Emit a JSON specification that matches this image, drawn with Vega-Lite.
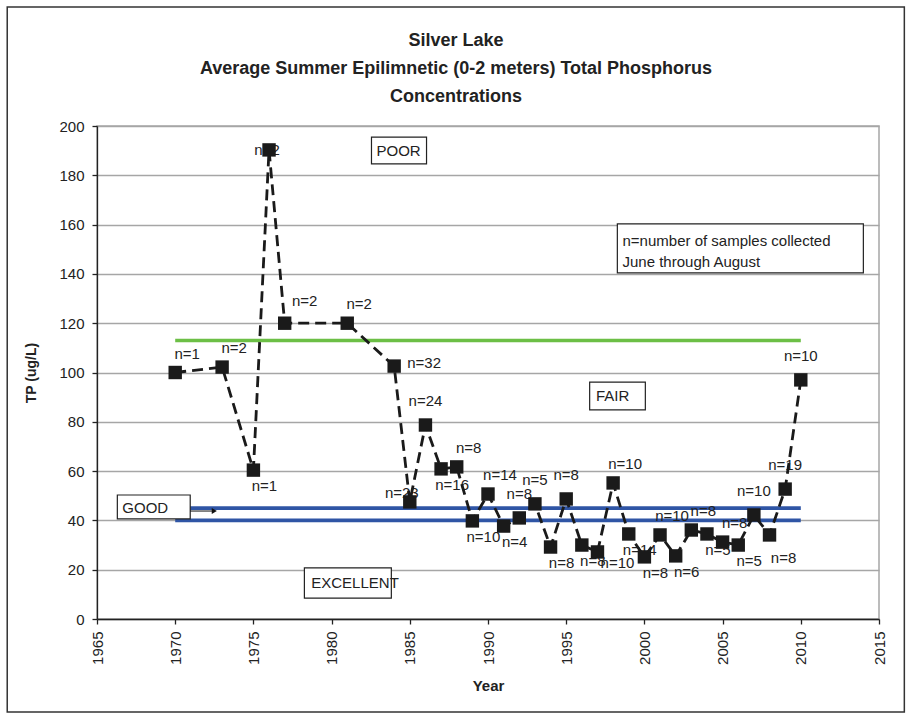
{
  "$schema": "https://vega.github.io/schema/vega-lite/v6.json",
  "width": 782,
  "height": 493,
  "autosize": {"type": "none"},
  "padding": {"left": 97, "top": 126, "right": 33, "bottom": 96},
  "background": "white",
  "title": {
    "text": ["Silver Lake", "Average Summer Epilimnetic (0-2 meters) Total Phosphorus", "Concentrations"],
    "font": "Liberation Sans",
    "fontSize": 18,
    "fontWeight": "bold",
    "color": "#222222",
    "lineHeight": 28,
    "anchor": "middle",
    "dx": -32,
    "offset": -100
  },
  "config": {
    "view": {"stroke": "#a6a6a6", "strokeWidth": 1.5},
    "font": "Liberation Sans",
    "axis": {
      "labelFont": "Liberation Sans",
      "titleFont": "Liberation Sans",
      "labelColor": "#222222",
      "titleColor": "#222222",
      "domainColor": "#222222",
      "tickColor": "#222222",
      "domainWidth": 1.3,
      "tickWidth": 1.3
    }
  },
  "datasets": {
    "tp": [
      {"year": 1970, "tp": 100, "label": "n=1", "pos": "ar"},
      {"year": 1973, "tp": 102.2, "label": "n=2", "pos": "ar"},
      {"year": 1975, "tp": 60.4, "label": "n=1", "pos": "br"},
      {"year": 1976, "tp": 190.3, "label": "n=2", "pos": "c"},
      {"year": 1977, "tp": 120, "label": "n=2", "pos": "ar2"},
      {"year": 1981, "tp": 120, "label": "n=2", "pos": "ar"},
      {"year": 1984, "tp": 102.6, "label": "n=32", "pos": "r"},
      {"year": 1985, "tp": 47.5, "label": "n=23", "pos": "al"},
      {"year": 1986, "tp": 78.7, "label": "n=24", "pos": "a"},
      {"year": 1987, "tp": 60.9, "label": "n=16", "pos": "br"},
      {"year": 1988, "tp": 61.7, "label": "n=8", "pos": "ar"},
      {"year": 1989, "tp": 39.8, "label": "n=10", "pos": "br"},
      {"year": 1990, "tp": 50.7, "label": "n=14", "pos": "ar"},
      {"year": 1991, "tp": 37.7, "label": "n=4", "pos": "br"},
      {"year": 1992, "tp": 41, "label": "n=8", "pos": "a"},
      {"year": 1993, "tp": 46.7, "label": "n=5", "pos": "a"},
      {"year": 1994, "tp": 29.2, "label": "n=8", "pos": "br"},
      {"year": 1995, "tp": 48.7, "label": "n=8", "pos": "a"},
      {"year": 1996, "tp": 30, "label": "n=8", "pos": "br"},
      {"year": 1997, "tp": 27.2, "label": "n=10", "pos": "br2"},
      {"year": 1998, "tp": 55.2, "label": "n=10", "pos": "ar"},
      {"year": 1999, "tp": 34.5, "label": "n=14", "pos": "br"},
      {"year": 2000, "tp": 25.2, "label": "n=8", "pos": "br"},
      {"year": 2001, "tp": 34.1, "label": "n=10", "pos": "ar"},
      {"year": 2002, "tp": 25.6, "label": "n=6", "pos": "br"},
      {"year": 2003, "tp": 36.1, "label": "n=8", "pos": "ar"},
      {"year": 2004, "tp": 34.5, "label": "n=5", "pos": "br"},
      {"year": 2005, "tp": 31.2, "label": "n=8", "pos": "ar"},
      {"year": 2006, "tp": 30, "label": "n=5", "pos": "br"},
      {"year": 2007, "tp": 42.2, "label": "n=10", "pos": "a"},
      {"year": 2008, "tp": 34.1, "label": "n=8", "pos": "br3"},
      {"year": 2009, "tp": 52.7, "label": "n=19", "pos": "a"},
      {"year": 2010, "tp": 97, "label": "n=10", "pos": "a"}
    ],
    "thresholds": [
      {"name": "Fair/Poor", "tp": 113, "year": 1970, "end": 2010, "color": "green"},
      {"name": "Good upper", "tp": 45, "year": 1970, "end": 2010, "color": "blue"},
      {"name": "Good lower", "tp": 40, "year": 1970, "end": 2010, "color": "blue"}
    ],
    "boxes": [
      {"name": "POOR", "year": 1982.55, "year2": 1986.07, "tp": 184.6, "tp2": 195.5},
      {"name": "FAIR", "year": 1996.5, "year2": 2000.06, "tp": 84.8, "tp2": 96.1},
      {"name": "GOOD", "year": 1966.3, "year2": 1970.96, "tp": 40.6, "tp2": 50.3},
      {"name": "EXCELLENT", "year": 1978.26, "year2": 1983.82, "tp": 8.5, "tp2": 20.7},
      {"name": "note", "year": 1998.27, "year2": 2014.0, "tp": 140.4, "tp2": 160.3}
    ],
    "boxtext": [
      {"text": "POOR", "year": 1982.87, "tp": 189.9},
      {"text": "FAIR", "year": 1996.9, "tp": 90.5},
      {"text": "GOOD", "year": 1966.62, "tp": 45.2},
      {"text": "EXCELLENT", "year": 1978.7, "tp": 14.6},
      {"text": "n=number of samples collected", "year": 1998.6, "tp": 153.3},
      {"text": "June through August", "year": 1998.6, "tp": 144.8}
    ],
    "arrow": [
      {"year": 1970.96, "end": 1972.5, "tp": 43.8}
    ]
  },
  "layer": [
    {
      "data": {"name": "thresholds"},
      "mark": {"type": "rule", "strokeWidth": 3.6},
      "encoding": {
        "x": {"field": "year", "type": "quantitative", "scale": {"domain": [1965, 2015], "nice": false, "zero": false},
          "axis": {"title": "Year", "titleFontSize": 15, "titleFontWeight": "bold", "titlePadding": 14,
            "values": [1965, 1970, 1975, 1980, 1985, 1990, 1995, 2000, 2005, 2010, 2015],
            "format": "d", "labelAngle": 270, "labelAlign": "right", "labelBaseline": "middle",
            "labelFontSize": 15, "labelPadding": 7, "tickSize": 5, "grid": false, "labelOverlap": false}},
        "x2": {"field": "end"},
        "y": {"field": "tp", "type": "quantitative", "scale": {"domain": [0, 200], "nice": false},
          "axis": {"title": "TP (ug/L)", "titleFontSize": 14, "titleFontWeight": "bold", "titlePadding": 20,
            "values": [0, 20, 40, 60, 80, 100, 120, 140, 160, 180, 200],
            "labelFontSize": 15, "labelPadding": 8, "tickSize": 5,
            "grid": true, "gridColor": "#a6a6a6", "gridWidth": 1.5}},
        "color": {"field": "color", "type": "nominal", "scale": {"domain": ["green", "blue"], "range": ["#6cbf46", "#2f55a5"]}, "legend": null}
      }
    },
    {
      "data": {"values": [{"frame": "chart border"}]},
      "mark": {"type": "rect", "filled": false, "stroke": "#333333", "strokeWidth": 1.5, "clip": false},
      "encoding": {
        "x": {"datum": 1959.26, "type": "quantitative", "scale": {"domain": [1965, 2015], "nice": false, "zero": false}},
        "x2": {"datum": 2016.62},
        "y": {"datum": 248.3, "type": "quantitative", "scale": {"domain": [0, 200], "nice": false}},
        "y2": {"datum": -37.7}
      }
    },
    {
      "data": {"name": "boxes"},
      "mark": {"type": "rect", "fill": "white", "stroke": "#222222", "strokeWidth": 1.2},
      "encoding": {
        "x": {"field": "year", "type": "quantitative", "scale": {"domain": [1965, 2015], "nice": false, "zero": false}},
        "x2": {"field": "year2"},
        "y": {"field": "tp", "type": "quantitative", "scale": {"domain": [0, 200], "nice": false}},
        "y2": {"field": "tp2"}
      }
    },
    {
      "data": {"name": "boxtext"},
      "mark": {"type": "text", "align": "left", "baseline": "middle", "fontSize": 15, "color": "#222222", "font": "Liberation Sans"},
      "encoding": {
        "x": {"field": "year", "type": "quantitative", "scale": {"domain": [1965, 2015], "nice": false, "zero": false}},
        "y": {"field": "tp", "type": "quantitative", "scale": {"domain": [0, 200], "nice": false}},
        "text": {"field": "text"}
      }
    },
    {
      "data": {"name": "arrow"},
      "mark": {"type": "rule", "color": "#111111", "strokeWidth": 1},
      "encoding": {
        "x": {"field": "year", "type": "quantitative", "scale": {"domain": [1965, 2015], "nice": false, "zero": false}},
        "x2": {"field": "end"},
        "y": {"field": "tp", "type": "quantitative", "scale": {"domain": [0, 200], "nice": false}}
      }
    },
    {
      "data": {"name": "arrow"},
      "mark": {"type": "point", "shape": "triangle-right", "filled": true, "color": "#111111", "size": 35, "opacity": 1},
      "encoding": {
        "x": {"field": "end", "type": "quantitative", "scale": {"domain": [1965, 2015], "nice": false, "zero": false}},
        "y": {"field": "tp", "type": "quantitative", "scale": {"domain": [0, 200], "nice": false}}
      }
    },
    {
      "data": {"name": "tp"},
      "layer": [
        {"transform": [{"filter": "datum.pos === 'a'"}], "mark": {"type": "text", "fontSize": 15, "color": "#222222", "dx": 0, "dy": -24}},
        {"transform": [{"filter": "datum.pos === 'ar'"}], "mark": {"type": "text", "fontSize": 15, "color": "#222222", "dx": 12, "dy": -19}},
        {"transform": [{"filter": "datum.pos === 'ar2'"}], "mark": {"type": "text", "fontSize": 15, "color": "#222222", "dx": 20, "dy": -22}},
        {"transform": [{"filter": "datum.pos === 'br'"}], "mark": {"type": "text", "fontSize": 15, "color": "#222222", "dx": 11, "dy": 16}},
        {"transform": [{"filter": "datum.pos === 'br2'"}], "mark": {"type": "text", "fontSize": 15, "color": "#222222", "dx": 20, "dy": 11}},
        {"transform": [{"filter": "datum.pos === 'br3'"}], "mark": {"type": "text", "fontSize": 15, "color": "#222222", "dx": 14, "dy": 23}},
        {"transform": [{"filter": "datum.pos === 'r'"}], "mark": {"type": "text", "fontSize": 15, "color": "#222222", "dx": 30, "dy": -3}},
        {"transform": [{"filter": "datum.pos === 'al'"}], "mark": {"type": "text", "fontSize": 15, "color": "#222222", "dx": -8, "dy": -9}},
        {"transform": [{"filter": "datum.pos === 'c'"}], "mark": {"type": "text", "fontSize": 15, "color": "#222222", "dx": -2, "dy": 0}},
        {"mark": {"type": "line", "color": "#1a1a1a", "strokeWidth": 2.8, "strokeDash": [11, 6]}},
        {"mark": {"type": "square", "color": "#1a1a1a", "size": 180, "opacity": 1}}
      ],
      "encoding": {
        "x": {"field": "year", "type": "quantitative", "scale": {"domain": [1965, 2015], "nice": false, "zero": false}},
        "y": {"field": "tp", "type": "quantitative", "scale": {"domain": [0, 200], "nice": false}},
        "text": {"field": "label"}
      }
    }
  ]
}
